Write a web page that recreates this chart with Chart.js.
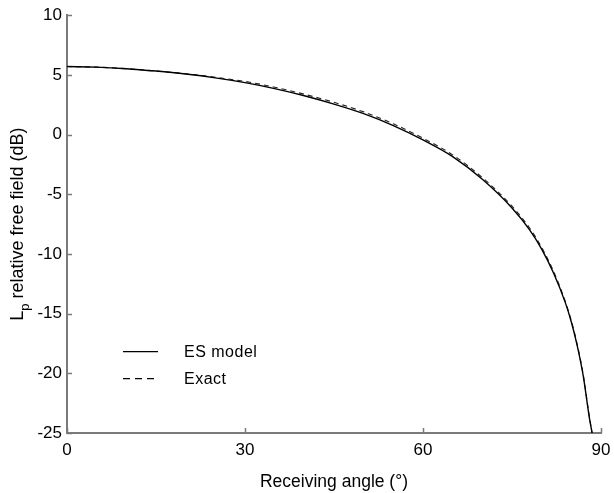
<!DOCTYPE html>
<html>
<head>
<meta charset="utf-8">
<script src="https://cdn.jsdelivr.net/npm/chart.js@4.4.1/dist/chart.umd.min.js"></script>
<style>
  html, body { margin: 0; padding: 0; background: #fff; }
  #wrap { width: 614px; height: 493px; }
</style>
</head>
<body>
<div id="wrap"><canvas id="c" width="614" height="493"></canvas></div>
<script>
// Receiving angle (degrees)
const angles = [0, 5, 10, 15, 20, 25, 30, 35, 40, 45, 50, 55, 60, 65, 70, 75, 78, 80, 82, 84, 85, 86, 87, 88, 88.5];
// Sound pressure level relative to free field (dB), ES model
const esModel = [5.7, 5.65, 5.52, 5.32, 5.07, 4.75, 4.35, 3.85, 3.25, 2.55, 1.75, 0.75, -0.45, -1.85, -3.75, -6.15, -8.0, -9.6, -11.6, -14.1, -15.7, -17.7, -20.2, -23.6, -25];
// Exact solution (dB)
const exact = [5.7, 5.65, 5.52, 5.32, 5.1, 4.8, 4.45, 3.97, 3.38, 2.7, 1.9, 0.9, -0.3, -1.7, -3.6, -6.0, -7.85, -9.45, -11.45, -14.0, -15.6, -17.6, -20.1, -23.5, -25];
// Axis ticks
const xTicks = [0, 30, 60, 90];
const yTicks = [10, 5, 0, -5, -10, -15, -20, -25];

const FONT = '"Liberation Sans", Arial, Helvetica, sans-serif';
const AXIS_COLOR = '#7a7a7a';

const toXY = (ys) => angles.map((a, i) => ({ x: a, y: ys[i] }));

// Inward tick marks, legend inside the plot and the subscripted y title
const decorations = {
  id: 'decorations',
  afterDraw(chart) {
    const ctx = chart.ctx;
    const xs = chart.scales.x, ys = chart.scales.y;
    const area = chart.chartArea;
    ctx.save();
    ctx.strokeStyle = AXIS_COLOR;
    ctx.lineWidth = 1.5;
    ctx.beginPath();
    xTicks.forEach(v => {
      const px = Math.round(xs.getPixelForValue(v)) + 0.5;
      ctx.moveTo(px, area.bottom);
      ctx.lineTo(px, area.bottom - 5);
    });
    yTicks.forEach(v => {
      const py = Math.round(ys.getPixelForValue(v)) + 0.5;
      ctx.moveTo(area.left, py);
      ctx.lineTo(area.left + 5, py);
    });
    ctx.stroke();

    // legend
    ctx.font = '16px ' + FONT;
    ctx.textBaseline = 'middle';
    ctx.fillStyle = '#000';
    chart.data.datasets.forEach((ds, i) => {
      const y = area.top + 336 + i * 27;
      ctx.strokeStyle = '#000';
      ctx.lineWidth = 1.2;
      ctx.setLineDash(i === 0 ? [] : [7, 5]);
      ctx.beginPath();
      ctx.moveTo(area.left + 56, y + 0.5);
      ctx.lineTo(area.left + 91, y + 0.5);
      ctx.stroke();
      ctx.setLineDash([]);
      ctx.textAlign = 'left';
      ctx.letterSpacing = '0.5px';
      ctx.fillText(ds.label, area.left + 117, y + 1);
      ctx.letterSpacing = '0px';
    });

    // y-axis title with subscript
    const cy = (area.top + area.bottom) / 2;
    ctx.translate(18, cy);
    ctx.rotate(-Math.PI / 2);
    const big = '18px ' + FONT, small = '13px ' + FONT;
    ctx.font = big;
    const wL = ctx.measureText('L').width;
    const rest = ' relative free field (dB)';
    const wRest = ctx.measureText(rest).width;
    ctx.font = small;
    const wP = ctx.measureText('p').width;
    const total = wL + wP + wRest;
    let x0 = -total / 2;
    ctx.textAlign = 'left';
    ctx.textBaseline = 'middle';
    ctx.fillStyle = '#000';
    ctx.font = big;
    ctx.fillText('L', x0, 0);
    ctx.font = small;
    ctx.fillText('p', x0 + wL, 7);
    ctx.font = big;
    ctx.fillText(rest, x0 + wL + wP, 0);
    ctx.restore();
  }
};

new Chart(document.getElementById('c'), {
  type: 'line',
  data: {
    datasets: [
      {
        label: 'ES model',
        data: toXY(esModel),
        borderColor: '#000',
        borderWidth: 1.4,
        pointRadius: 0,
        cubicInterpolationMode: 'monotone',
        fill: false
      },
      {
        label: 'Exact',
        data: toXY(exact),
        borderColor: '#222',
        borderWidth: 1.1,
        borderDash: [5, 4],
        pointRadius: 0,
        cubicInterpolationMode: 'monotone',
        fill: false
      }
    ]
  },
  options: {
    responsive: false,
    animation: false,
    layout: { padding: { top: 14, right: 0, left: 0, bottom: 0 } },
    plugins: {
      legend: { display: false },
      tooltip: { enabled: false }
    },
    scales: {
      x: {
        type: 'linear',
        min: 0, max: 90,
        afterBuildTicks: (s) => { s.ticks = xTicks.map(v => ({ value: v })); },
        afterFit: (s) => { s.height = 60; s.paddingRight = 13; },
        grid: { display: true, drawOnChartArea: false, drawTicks: false },
        border: { display: true, color: AXIS_COLOR, width: 2 },
        ticks: { color: '#000', font: { family: FONT, size: 17 }, padding: 7, maxRotation: 0 },
        title: {
          display: true,
          text: 'Receiving angle (°)',
          color: '#000',
          font: { family: FONT, size: 17.5 },
          padding: { top: 6, bottom: 0 }
        }
      },
      y: {
        type: 'linear',
        min: -25, max: 10,
        afterBuildTicks: (s) => { s.ticks = yTicks.map(v => ({ value: v })); },
        afterFit: (s) => { s.width = 67; },
        grid: { display: true, drawOnChartArea: false, drawTicks: false },
        border: { display: true, color: AXIS_COLOR, width: 2 },
        ticks: { color: '#000', font: { family: FONT, size: 17 }, padding: 5 }
      }
    }
  },
  plugins: [decorations]
});
</script>
</body>
</html>
